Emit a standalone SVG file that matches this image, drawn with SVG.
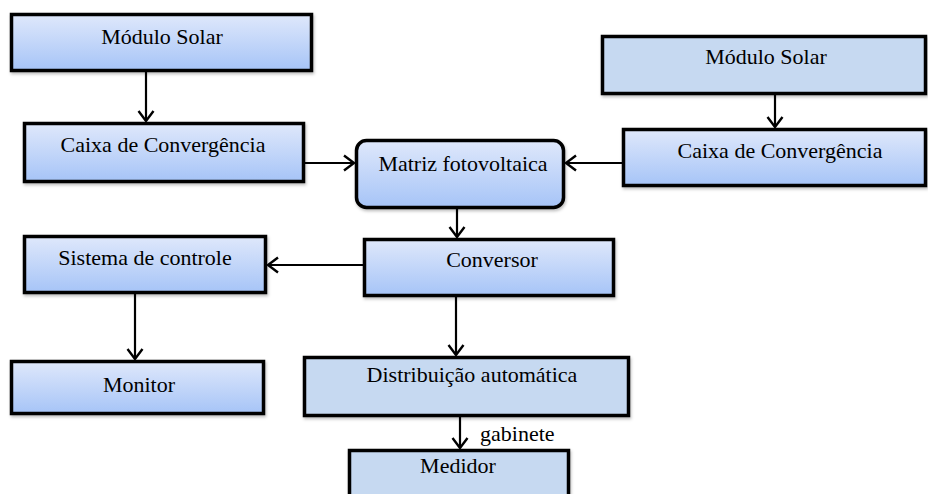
<svg xmlns="http://www.w3.org/2000/svg" width="928" height="494" viewBox="0 0 928 494">
<defs>
<linearGradient id="g" x1="0" y1="0" x2="0" y2="1">
<stop offset="0" stop-color="#dfe8fb"/>
<stop offset="1" stop-color="#a6c4f7"/>
</linearGradient>
<filter id="sh" x="-5%" y="-10%" width="115%" height="130%">
<feDropShadow dx="1" dy="2" stdDeviation="1.5" flood-color="#000" flood-opacity="0.25"/>
</filter>
<marker id="ah" viewBox="0 0 12 18" refX="11" refY="9" markerWidth="12" markerHeight="18" markerUnits="userSpaceOnUse" orient="auto">
<path d="M1,1.5 L11,9 L1,16.5" fill="none" stroke="#000" stroke-width="2.4"/>
</marker>
</defs>
<style>
.b{stroke:#000;stroke-width:3.5;filter:url(#sh)}
.gr{fill:url(#g)}
.fl{fill:#c6d9f1}
text{font-family:"Liberation Serif","Times New Roman",serif;font-size:22px;fill:#000;text-anchor:middle}
.c{fill:none;stroke:#000;stroke-width:2.2}
</style>
<rect width="928" height="494" fill="#fff"/>
<g id="conn">
<line class="c" x1="146" y1="72" x2="146" y2="121" marker-end="url(#ah)"/>
<line class="c" x1="775" y1="95" x2="775" y2="127" marker-end="url(#ah)"/>
<line class="c" x1="305" y1="163" x2="354" y2="163" marker-end="url(#ah)"/>
<line class="c" x1="622" y1="163" x2="566" y2="163" marker-end="url(#ah)"/>
<line class="c" x1="457" y1="209" x2="457" y2="237" marker-end="url(#ah)"/>
<line class="c" x1="363" y1="265" x2="268" y2="265" marker-end="url(#ah)"/>
<line class="c" x1="135" y1="294" x2="135" y2="359" marker-end="url(#ah)"/>
<line class="c" x1="456" y1="297" x2="456" y2="355" marker-end="url(#ah)"/>
<line class="c" x1="460" y1="417" x2="460" y2="448" marker-end="url(#ah)"/>
<text x="480" y="441" style="text-anchor:start">gabinete</text>
</g>
<g id="modulo-solar-1"><rect class="b gr" x="11.5" y="14.5" width="300" height="56"/><text x="162" y="44">Módulo Solar</text></g>
<g id="caixa-1"><rect class="b gr" x="24.5" y="123.5" width="279" height="58"/><text x="163" y="152">Caixa de Convergência</text></g>
<g id="matriz"><rect class="b gr" x="356.5" y="140.5" width="207" height="67" rx="10"/><text x="463" y="171">Matriz fotovoltaica</text></g>
<g id="modulo-solar-2"><rect class="b fl" x="602.5" y="36.5" width="323" height="57"/><text x="766" y="64">Módulo Solar</text></g>
<g id="caixa-2"><rect class="b gr" x="623.5" y="129.5" width="302" height="56"/><text x="780" y="158">Caixa de Convergência</text></g>
<g id="conversor"><rect class="b gr" x="364.5" y="239.5" width="249" height="56"/><text x="492" y="267">Conversor</text></g>
<g id="sistema"><rect class="b gr" x="24.5" y="236.5" width="241" height="56"/><text x="145" y="265">Sistema de controle</text></g>
<g id="monitor"><rect class="b gr" x="11.5" y="361.5" width="252" height="52"/><text x="139" y="392">Monitor</text></g>
<g id="distribuicao"><rect class="b fl" x="304.5" y="357.5" width="324" height="58"/><text x="472" y="382">Distribuição automática</text></g>
<g id="medidor"><rect class="b fl" x="349.5" y="450.5" width="219" height="60"/><text x="458" y="473">Medidor</text></g>
</svg>
